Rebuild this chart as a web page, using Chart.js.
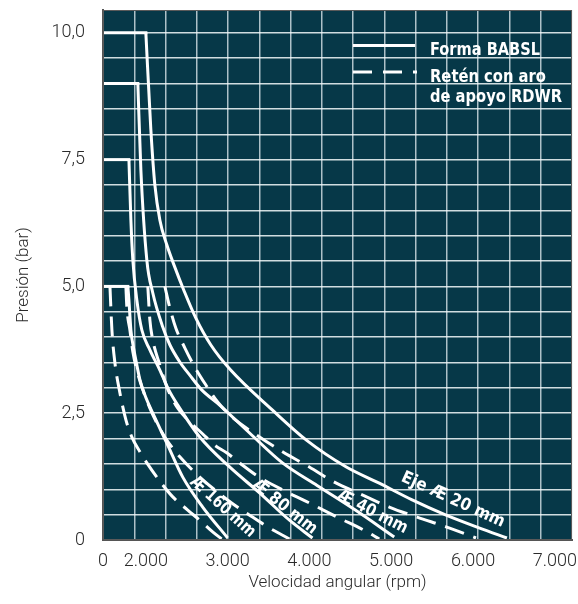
<!DOCTYPE html>
<html>
<head>
<meta charset="utf-8">
<script src="https://cdn.jsdelivr.net/npm/chart.js@4.4.1/dist/chart.umd.min.js"></script>
<style>
  html, body { margin: 0; padding: 0; background: #fff; }
</style>
</head>
<body>
<canvas id="chart" width="578" height="604"></canvas>
<script>
// x axis: left edge is labelled "0", grid has 15 columns
const X_MIN = 1476;
const X_STEP = 382.3;
const X_MAX = X_MIN + 15 * X_STEP;
const xTicks = [X_MIN, 2000, 3000, 4000, 5000, 6000, 7000];
const yTicks = [0, 2.5, 5, 7.5, 10];

// Forma BABSL (solid)
const rpm20 = [1476, 2000, 2061, 2110, 2171, 2256, 2354, 2463, 2610, 2793, 3037, 3549, 3963, 4451, 4854, 5256, 5671, 6073, 6415];
const bar20 = [10, 10, 8.09, 7.00, 6.31, 5.82, 5.38, 4.93, 4.38, 3.85, 3.35, 2.56, 1.97, 1.44, 1.12, 0.79, 0.49, 0.24, 0.04];
const rpm40 = [1476, 1902, 1939, 2012, 2085, 2207, 2293, 2415, 2537, 2683, 2902, 3268, 3671, 4098, 4561, 5037];
const bar40 = [9, 9, 7.30, 5.52, 4.87, 4.20, 3.85, 3.51, 3.25, 2.96, 2.66, 2.11, 1.52, 1.07, 0.59, 0.06];
const rpm80 = [1476, 1793, 1817, 1841, 1890, 1951, 2049, 2171, 2280, 2390, 2659, 3024, 3390, 3756, 4037];
const bar80 = [7.5, 7.5, 6.31, 5.52, 4.73, 4.14, 3.75, 3.35, 2.96, 2.66, 2.03, 1.44, 0.93, 0.39, 0.04];
const rpm160 = [1476, 1780, 1793, 1817, 1854, 1890, 1927, 1988, 2085, 2256, 2451, 2695, 3000];
const bar160 = [5, 5, 4.73, 4.14, 3.75, 3.45, 3.16, 2.86, 2.50, 1.91, 1.24, 0.65, 0.04];

// Retén con aro de apoyo RDWR (dashed)
const rpmD20 = [2232, 2293, 2366, 2476, 2598, 2732, 2878, 3049, 3354, 3671, 3999, 4305, 4646, 4976, 5317, 5671, 6037];
const barD20 = [5, 4.58, 4.18, 3.79, 3.41, 3.06, 2.72, 2.43, 2.07, 1.74, 1.44, 1.14, 0.89, 0.65, 0.45, 0.26, 0.04];
const rpmD40 = [2024, 2049, 2085, 2171, 2256, 2366, 2512, 2683, 2841, 2988, 3146, 3366, 3720, 4024, 4341, 4683, 4854];
const barD40 = [5, 4.34, 3.94, 3.45, 3.02, 2.66, 2.37, 2.11, 1.87, 1.72, 1.52, 1.26, 0.95, 0.71, 0.45, 0.18, 0.02];
const rpmD80 = [1756, 1768, 1805, 1841, 1890, 1963, 2049, 2146, 2256, 2415, 2659, 2841, 3049, 3268, 3488, 3756];
const barD80 = [5, 4.58, 4.14, 3.71, 3.35, 2.96, 2.60, 2.27, 1.97, 1.64, 1.24, 0.99, 0.73, 0.49, 0.26, 0.02];
const rpmD160 = [1561, 1585, 1622, 1683, 1756, 1829, 1927, 2012, 2171, 2329, 2512, 2659, 2817, 2927];
const barD160 = [5, 4.14, 3.49, 2.90, 2.37, 2.03, 1.74, 1.52, 1.16, 0.85, 0.59, 0.39, 0.16, 0.02];

const curveLabels = [
  { text: 'Eje Æ 20 mm', rpm: 5756, bar: 0.79, angle: 24.5, width: 112 },
  { text: 'Æ 40 mm', rpm: 4768, bar: 0.55, angle: 27, width: 77 },
  { text: 'Æ 80 mm', rpm: 3695, bar: 0.65, angle: 38, width: 78 },
  { text: 'Æ 160 mm', rpm: 2939, bar: 0.65, angle: 42, width: 82 },
];

const PLOT_BG = '#063848';
const AXIS_FONT = "Roboto, 'DejaVu Sans', sans-serif";
const BOLD_FONT = "'DejaVu Sans Condensed', 'Liberation Sans Narrow', 'DejaVu Sans', sans-serif";

function pts(xs, ys) {
  return xs.map((x, i) => ({ x, y: ys[i] }));
}

function line(points, opts) {
  return Object.assign({
    data: points,
    xAxisID: 'x',
    borderColor: '#ffffff',
    borderWidth: 3,
    pointRadius: 0,
    fill: false,
  }, opts);
}

// solid curves: flat max-pressure run (straight) + smooth falling part
function solid(xs, ys) {
  const p = pts(xs, ys);
  return [
    line(p.slice(0, 2), { tension: 0, borderCapStyle: 'square' }),
    line(p.slice(1), { cubicInterpolationMode: 'monotone' }),
  ];
}

function dashed(xs, ys) {
  return [line(pts(xs, ys), { cubicInterpolationMode: 'monotone', borderDash: [20, 10] })];
}

function fmtNum(v) {
  return Math.round(v).toString().replace(/\B(?=(\d{3})+(?!\d))/g, '.');
}

// keep the plot box where it is in the picture, ignore label overhang
function noPadding(s) {
  s.paddingTop = 0;
  s.paddingBottom = 0;
  s.paddingLeft = 0;
  s.paddingRight = 0;
}

const plotBackground = {
  id: 'plotBackground',
  beforeDraw(chart) {
    const { ctx, chartArea: a } = chart;
    ctx.save();
    ctx.fillStyle = PLOT_BG;
    ctx.fillRect(a.left, a.top, a.width, a.height);
    ctx.restore();
  },
  afterDraw(chart) {
    const { ctx, chartArea: a } = chart;
    ctx.save();
    ctx.strokeStyle = '#5a5a5a';
    ctx.lineWidth = 1;
    ctx.strokeRect(a.left + 0.5, a.top + 0.5, a.width - 1, a.height - 1);
    ctx.restore();
  }
};

const annotations = {
  id: 'annotations',
  afterDatasetsDraw(chart) {
    const { ctx, scales } = chart;
    ctx.save();
    ctx.fillStyle = '#ffffff';
    ctx.strokeStyle = '#ffffff';
    ctx.textBaseline = 'middle';
    ctx.textAlign = 'center';
    ctx.font = 'bold 17px ' + BOLD_FONT;
    curveLabels.forEach(l => {
      const px = scales.x.getPixelForValue(l.rpm);
      const py = scales.y.getPixelForValue(l.bar);
      ctx.save();
      ctx.translate(px, py);
      ctx.rotate(l.angle * Math.PI / 180);
      ctx.fillText(l.text, 0, 0, l.width);
      ctx.restore();
    });

    // legend
    const a = chart.chartArea;
    const lx = a.left + 250;
    ctx.lineWidth = 3;
    ctx.beginPath();
    ctx.moveTo(lx, 45.5);
    ctx.lineTo(lx + 62, 45.5);
    ctx.stroke();
    ctx.setLineDash([19, 11]);
    ctx.beginPath();
    ctx.moveTo(lx, 72);
    ctx.lineTo(lx + 64, 72);
    ctx.stroke();
    ctx.setLineDash([]);
    ctx.textAlign = 'left';
    ctx.textBaseline = 'alphabetic';
    ctx.font = 'bold 18px ' + BOLD_FONT;
    ctx.fillText('Forma BABSL', lx + 77, 55, 110);
    ctx.fillText('Retén con aro', lx + 77, 82, 116);
    ctx.fillText('de apoyo RDWR', lx + 77, 102, 132);
    ctx.restore();
  }
};

new Chart(document.getElementById('chart'), {
  type: 'line',
  data: {
    datasets: [
      ...solid(rpm20, bar20),
      ...solid(rpm40, bar40),
      ...solid(rpm80, bar80),
      ...solid(rpm160, bar160),
      ...dashed(rpmD20, barD20),
      ...dashed(rpmD40, barD40),
      ...dashed(rpmD80, barD80),
      ...dashed(rpmD160, barD160),
    ]
  },
  options: {
    responsive: false,
    animation: false,
    layout: { padding: { left: 0, right: 6, top: 10, bottom: 0 } },
    plugins: { legend: { display: false }, tooltip: { enabled: false } },
    scales: {
      x: {
        type: 'linear',
        min: X_MIN,
        max: X_MAX,
        afterBuildTicks: s => { s.ticks = xTicks.map(v => ({ value: v })); },
        afterFit: s => { s.height = 64; noPadding(s); },
        grid: { display: false, drawTicks: false },
        border: { display: true, color: '#555', width: 2 },
        ticks: {
          autoSkip: false,
          maxRotation: 0,
          padding: 11,
          color: '#2a2a2a',
          font: { family: AXIS_FONT, size: 18, weight: '300' },
          callback: v => v === X_MIN ? '0' : fmtNum(v)
        },
        title: {
          display: true,
          text: 'Velocidad angular (rpm)',
          color: '#2a2a2a',
          font: { family: AXIS_FONT, size: 17, weight: '300' },
          padding: { top: 0, bottom: 11 }
        }
      },
      xg: {
        type: 'linear',
        position: 'bottom',
        min: 0,
        max: 15,
        afterBuildTicks: s => { s.ticks = Array.from({ length: 16 }, (_, i) => ({ value: i })); },
        afterFit: s => { s.height = 0; noPadding(s); },
        ticks: { display: false },
        border: { display: false },
        grid: { color: 'rgba(215,228,233,0.8)', lineWidth: 1.5, drawTicks: false }
      },
      y: {
        min: 0,
        max: 10.45,
        afterBuildTicks: s => { s.ticks = Array.from({ length: 21 }, (_, i) => ({ value: i * 0.5 })); },
        afterFit: s => { s.width = 103; noPadding(s); },
        grid: { color: 'rgba(245,250,252,0.85)', lineWidth: 1.5, drawTicks: false },
        border: { display: true, color: '#555', width: 2 },
        ticks: {
          padding: 18,
          color: '#2a2a2a',
          font: { family: AXIS_FONT, size: 18, weight: '300' },
          callback: v => {
            if (!yTicks.includes(v)) return '';
            return v === 0 ? '0' : v.toFixed(1).replace('.', ',');
          }
        },
        title: {
          display: true,
          text: 'Presión (bar)',
          color: '#2a2a2a',
          font: { family: AXIS_FONT, size: 17, weight: '300' },
          padding: { top: 14, bottom: 0 }
        }
      }
    }
  },
  plugins: [plotBackground, annotations]
});
</script>
</body>
</html>
